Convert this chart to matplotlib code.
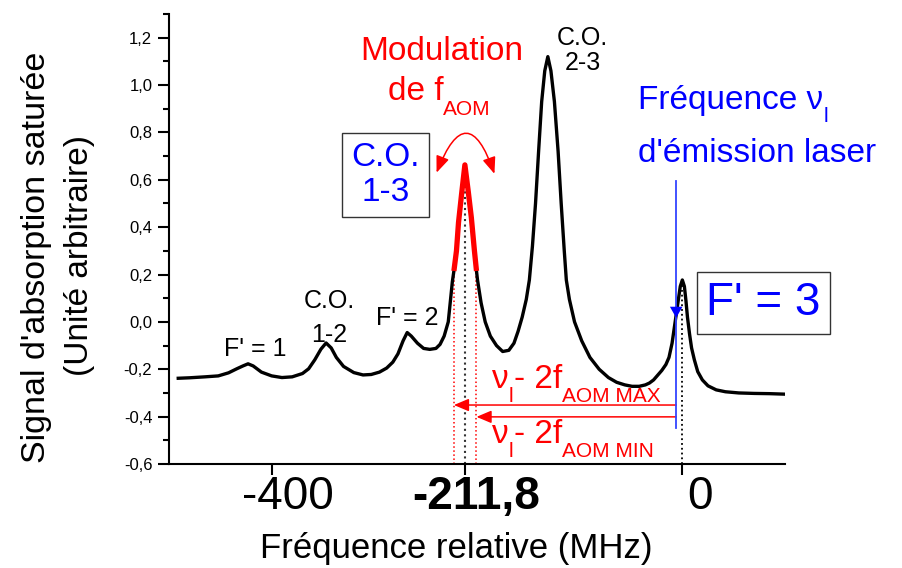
import numpy as np
import matplotlib
matplotlib.use("Agg")
import matplotlib.pyplot as plt
from matplotlib.transforms import offset_copy, ScaledTranslation

plt.rcParams['font.family'] = ['Liberation Sans', 'DejaVu Sans']

# spectre d'absorption saturée (MHz, unités arbitraires)
freq = [-491, -480, -465, -452, -442, -434, -428, -423, -418, -410, -400, -390,
        -380, -370, -364, -358, -352, -347, -342, -337, -330, -320, -311, -303,
        -295, -288, -282, -277, -272, -268, -264, -258, -252, -246, -240, -236,
        -232, -228, -224, -222.5, -220, -218, -215, -211.8, -208.5, -205.5,
        -202.5, -200.5, -199.5, -196, -192, -187, -181, -175, -169, -164, -160,
        -156, -152, -149, -146, -143, -140, -137, -134, -131, -128, -124.6, -121,
        -118, -115, -113, -110, -105, -98, -90, -81, -72, -64, -56, -49, -42,
        -36, -32, -28, -24, -20, -16, -13, -10, -8, -6, -4, -2, 0, 2, 3.5, 5, 7,
        9, 11.7, 15, 19.5, 25, 33, 42, 55, 70, 85, 99]
signal = [-0.238, -0.236, -0.232, -0.228, -0.215, -0.198, -0.186, -0.177, -0.186,
          -0.212, -0.228, -0.235, -0.232, -0.218, -0.198, -0.16, -0.115, -0.089,
          -0.11, -0.15, -0.188, -0.214, -0.224, -0.222, -0.212, -0.195, -0.17,
          -0.135, -0.08, -0.045, -0.06, -0.09, -0.112, -0.116, -0.112, -0.095,
          -0.06, 0.0, 0.17, 0.215, 0.30, 0.42, 0.54, 0.663, 0.55, 0.44, 0.30,
          0.215, 0.177, 0.08, 0.0, -0.06, -0.10, -0.125, -0.12, -0.09, -0.04,
          0.02, 0.095, 0.177, 0.32, 0.50, 0.72, 0.93, 1.06, 1.12, 1.06, 0.93,
          0.72, 0.50, 0.30, 0.177, 0.095, 0.0, -0.08, -0.15, -0.20, -0.235,
          -0.255, -0.266, -0.272, -0.272, -0.266, -0.258, -0.245, -0.225, -0.205,
          -0.18, -0.15, -0.09, -0.03, 0.03, 0.09, 0.15, 0.177, 0.15, 0.09, 0.02,
          -0.05, -0.11, -0.16, -0.21, -0.245, -0.27, -0.287, -0.295, -0.30,
          -0.302, -0.303, -0.305]

xticks = [-400, -211.8, 0]
xticklabels = ['-400', '-211,8', '0']
yticks = [-0.6, -0.4, -0.2, 0.0, 0.2, 0.4, 0.6, 0.8, 1.0, 1.2]

f_co13 = -211.8       # croisement 1-3
f_min, f_max = -222.5, -200.5   # bornes de la modulation AOM
f_laser = -6.0
peak_co13 = 0.663
peak_f3 = 0.177
level_mod = 0.215

freq = np.array(freq)
signal = np.array(signal)

fig = plt.figure(figsize=(9.03, 5.68), dpi=100)
ax = fig.add_axes([169/903, 1 - 464/568, (785-169)/903, (464-14)/568])
renderer = fig.canvas.get_renderer()


def chain_text(x, y, parts, color, size=24, subsize=15, drop=14):
    """texte avec indices : parts = [(chaine, indice?), ...]"""
    dx = 0
    for s, sub in parts:
        tr = offset_copy(ax.transData, fig=fig, x=dx, y=-drop if sub else 0, units='dots')
        t = ax.text(x, y, s, fontsize=subsize if sub else size, color=color,
                    ha='left', va='baseline', transform=tr)
        dx += t.get_window_extent(renderer).width


ax.plot(freq, signal, color='black', lw=2.4, zorder=3)
m = (freq >= f_min) & (freq <= f_max)
ax.plot(freq[m], signal[m], color='red', lw=3.8, zorder=4, solid_capstyle='butt')

# lignes pointillées verticales
ax.plot([f_min, f_min], [-0.6, level_mod], ls=':', color='red', lw=1.1, zorder=2)
ax.plot([f_max, f_max], [-0.6, level_mod], ls=':', color='red', lw=1.1, zorder=2)
ax.plot([f_co13, f_co13], [-0.6, peak_co13], ls=':', color='#333333', lw=1.5, zorder=2)
ax.plot([0, 0], [-0.6, peak_f3], ls=':', color='black', lw=1.3, zorder=2)

# fréquence du laser
ax.plot([f_laser, f_laser], [0.596, -0.448], color='#3344ff', lw=1.3, zorder=5)
ax.annotate('', xy=(f_laser, 0.017), xytext=(f_laser, 0.08),
            arrowprops=dict(arrowstyle='-|>,head_length=0.8,head_width=0.45',
                            color='blue', lw=0.01, shrinkA=0, shrinkB=0), zorder=6)

# flèches nu_l - 2 f_AOM
for f_end, y in [(f_min, -0.351), (f_max, -0.401)]:
    ax.annotate('', xy=(f_end, y), xytext=(f_laser, y),
                arrowprops=dict(arrowstyle='-|>,head_length=0.9,head_width=0.38',
                                color='red', lw=1.1, shrinkA=0, shrinkB=0))

# flèche courbe de la modulation
ax.annotate('', xy=(-183, 0.625), xytext=(-239.4, 0.63),
            arrowprops=dict(arrowstyle='<|-|>,head_length=1.0,head_width=0.4',
                            color='red', lw=1.1, shrinkA=0, shrinkB=0,
                            connectionstyle='arc3,rad=-1.35'))

# annotations
ax.text(-97, 1.17, 'C.O.', fontsize=18, ha='center', va='baseline')
ax.text(-97, 1.065, '2-3', fontsize=18, ha='center', va='baseline')
ax.text(-343.5, 0.059, 'C.O.', fontsize=18, ha='center', va='baseline')
ax.text(-343.5, -0.085, '1-2', fontsize=18, ha='center', va='baseline')
ax.text(-415.6, -0.144, "F' = 1", fontsize=18, ha='center', va='baseline')
ax.text(-267.6, -0.013, "F' = 2", fontsize=18, ha='center', va='baseline')

ax.text(-234, 1.107, 'Modulation', fontsize=24, color='red', ha='center', va='baseline')
chain_text(-287, 0.938, [('de f', False), ('AOM', True)], 'red', drop=15)

ax.text(-289, 0.62, 'C.O.\n1-3', fontsize=24, color='blue', ha='center', va='center',
        linespacing=1.15,
        bbox=dict(boxstyle='square,pad=0.27', fc='white', ec='#333333', lw=1))

chain_text(-43, 0.897, [('Fréquence ν', False), ('l', True)], 'blue', drop=13)
ax.text(-43, 0.673, "d'émission laser", fontsize=24, color='blue', ha='left', va='baseline')

ax.text(79, 0.08, "F' = 3", fontsize=33, color='blue', ha='center', va='center',
        bbox=dict(boxstyle='square,pad=0.2', fc='white', ec='#333333', lw=1),
        clip_on=False, zorder=7)

chain_text(-185, -0.279, [('ν', False), ('l', True), ('- 2f', False), ('AOM MAX', True)], 'red')
chain_text(-185, -0.511, [('ν', False), ('l', True), ('- 2f', False), ('AOM MIN', True)], 'red')

# axes
ax.set_xlim(-500, 100)
ax.set_ylim(-0.6, 1.3)
for s in ['top', 'right']:
    ax.spines[s].set_visible(False)
for s in ['left', 'bottom']:
    ax.spines[s].set_linewidth(1.5)

ax.set_xticks(xticks)
ax.set_xticklabels(xticklabels, fontsize=33)
ax.get_xticklabels()[1].set_fontweight('bold')
ax.tick_params(axis='x', direction='out', length=8, width=1.5, pad=0)
for lab, dx in zip(ax.get_xticklabels(), [16, 11, 18]):
    lab.set_transform(lab.get_transform() + ScaledTranslation(dx / 100, 0, fig.dpi_scale_trans))

ax.set_yticks(yticks)
ax.set_yticklabels([('%.1f' % v).replace('.', ',') for v in yticks], fontsize=12)
ax.set_yticks(np.arange(-0.5, 1.31, 0.2), minor=True)
ax.tick_params(axis='y', which='major', direction='out', length=8, width=1.5, pad=4)
ax.tick_params(axis='y', which='minor', direction='out', length=4, width=1.5)

fig.text(456/903, 1 - 558/568, 'Fréquence relative (MHz)', fontsize=25,
         ha='center', va='baseline')
fig.text(45/903, 1 - 257/568, "Signal d'absorption saturée", fontsize=24.5,
         rotation=90, rotation_mode='anchor', ha='center', va='baseline')
fig.text(88/903, 1 - 255/568, '(Unité arbitraire)', fontsize=24,
         rotation=90, rotation_mode='anchor', ha='center', va='baseline')

fig.savefig('out.png', dpi=100)
